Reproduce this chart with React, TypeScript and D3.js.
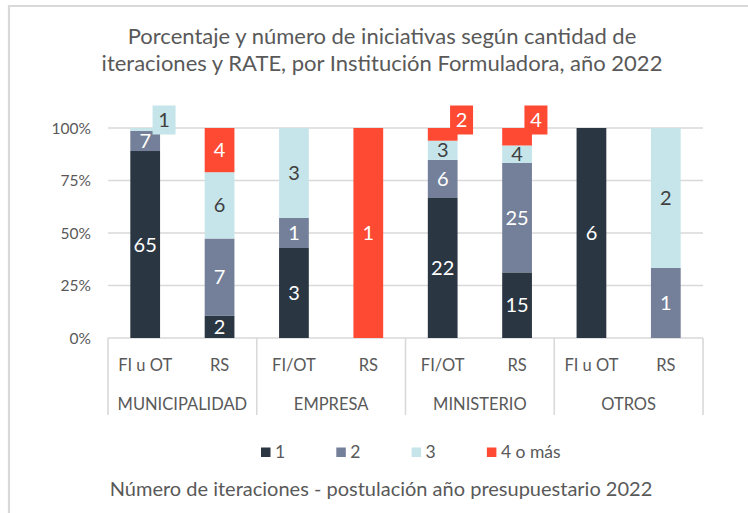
import React from 'react';
import * as d3 from 'd3';

const groups = ['MUNICIPALIDAD', 'EMPRESA', 'MINISTERIO', 'OTROS'];
const subLabels = ['FI u OT', 'RS', 'FI/OT', 'RS', 'FI/OT', 'RS', 'FI u OT', 'RS'];
const seriesNames = ['1', '2', '3', '4 o más'];
const s1 = [65, 2, 3, 0, 22, 15, 6, 0];
const s2 = [7, 7, 1, 0, 6, 25, 0, 1];
const s3 = [1, 6, 3, 0, 3, 4, 0, 2];
const s4 = [0, 4, 0, 1, 2, 4, 0, 0];
const yTicks = [0, 0.25, 0.5, 0.75, 1];
// [bar index, series index] for labels drawn as callouts above the bar
const callouts = [[0, 2], [4, 3], [5, 3]];
const titleLines = [
  'Porcentaje y número de iniciativas según cantidad de',
  'iteraciones y RATE, por Institución Formuladora, año 2022',
];
const footer = 'Número de iteraciones - postulación año presupuestario 2022';

const colors = ['#2B3643', '#747F99', '#C5E5EA', '#FF4A33'];
const labelColors = ['#ffffff', '#ffffff', '#404040', '#ffffff'];
const FONT = 'Lato, "Open Sans", sans-serif';
const TEXT = '#595959';
const GRID = '#D9D9D9';

export default function App() {
  const W = 748, H = 513;
  const x0 = 108, x1 = 703, yBottom = 338, yTop = 128;
  const barKeys = d3.range(s1.length);
  const table = barKeys.map((i) => ({ i, a: s1[i], b: s2[i], c: s3[i], d: s4[i] }));
  const keys = ['a', 'b', 'c', 'd'];
  const stack = d3.stack<any>().keys(keys).offset(d3.stackOffsetExpand);
  const series = stack(table);

  const x = d3.scaleBand<number>().domain(barKeys).range([x0, x1]).paddingInner(0.6).paddingOuter(0.3);
  const y = d3.scaleLinear().domain([0, 1]).range([yBottom, yTop]);
  const gx = d3.scaleBand<string>().domain(groups).range([x0, x1]);
  const pct = d3.format('.0%');

  const isCallout = (bi: number, si: number) => callouts.some(([b, s]) => b === bi && s === si);
  const bw = x.bandwidth();

  return (
    <svg width={W} height={H} style={{ position: 'absolute', left: 0, top: 0, background: '#fff' }} fontFamily={FONT}>
      <rect x={0} y={0} width={W} height={H} fill="#fff" />
      <line x1={8} x2={W} y1={6} y2={6} stroke={GRID} strokeWidth={2.2} />
      <line x1={9} x2={9} y1={5} y2={H} stroke={GRID} strokeWidth={2.2} />

      <text x={382} textAnchor="middle" fill={TEXT} fontSize={22}>
        {titleLines.map((t, i) => (
          <tspan key={i} x={382} y={44 + i * 26.5}>{t}</tspan>
        ))}
      </text>

      {yTicks.map((t) => (
        <g key={t}>
          <line x1={x0} x2={x1} y1={y(t)} y2={y(t)} stroke={GRID} strokeWidth={1.6} />
          <text x={91} y={y(t) + 5.5} textAnchor="end" fill={TEXT} fontSize={15.5}>{pct(t)}</text>
        </g>
      ))}

      {d3.range(groups.length + 1).map((i) => {
        const xx = i < groups.length ? gx(groups[i])! : x1;
        return <line key={i} x1={xx} x2={xx} y1={yBottom} y2={415} stroke={GRID} strokeWidth={1.6} />;
      })}

      {series.map((s, si) => (
        <g key={si}>
          {s.map((d, bi) => {
            if (d[1] - d[0] <= 0) return null;
            return (
              <rect key={bi} x={x(bi)} y={y(d[1])} width={bw} height={y(d[0]) - y(d[1])} fill={colors[si]} />
            );
          })}
        </g>
      ))}

      {series.map((s, si) => (
        <g key={'l' + si}>
          {s.map((d, bi) => {
            const v = [s1, s2, s3, s4][si][bi];
            if (!v || isCallout(bi, si)) return null;
            const cy = (y(d[0]) + y(d[1])) / 2;
            return (
              <text key={bi} x={x(bi)! + bw / 2} y={cy + 7} textAnchor="middle" fill={labelColors[si]} fontSize={20}>
                {v}
              </text>
            );
          })}
        </g>
      ))}

      {callouts.map(([bi, si]) => {
        const v = [s1, s2, s3, s4][si][bi];
        const cx = x(bi)! + bw + 4;
        const cy = y(1) - 8;
        return (
          <g key={'c' + bi}>
            <rect x={cx - 11.5} y={cy - 14.5} width={23} height={29} fill={colors[si]} />
            <text x={cx} y={cy + 7} textAnchor="middle" fill={labelColors[si]} fontSize={20}>{v}</text>
          </g>
        );
      })}

      {barKeys.map((bi) => (
        <text key={'s' + bi} x={x(bi)! + bw / 2} y={371} textAnchor="middle" fill={TEXT} fontSize={16.5}>
          {subLabels[bi]}
        </text>
      ))}
      {groups.map((g) => (
        <text key={g} x={gx(g)! + gx.bandwidth() / 2} y={410} textAnchor="middle" fill={TEXT} fontSize={16.5}>
          {g}
        </text>
      ))}

      {seriesNames.map((n, i) => (
        <g key={n} transform={`translate(${261 + i * 75.3},0)`}>
          <rect x={0} y={447.5} width={9.5} height={9.5} fill={colors[i]} />
          <text x={14} y={458} fill={TEXT} fontSize={17.5}>{n}</text>
        </g>
      ))}

      <text x={381} y={496} textAnchor="middle" fill={TEXT} fontSize={20}>{footer}</text>
    </svg>
  );
}
